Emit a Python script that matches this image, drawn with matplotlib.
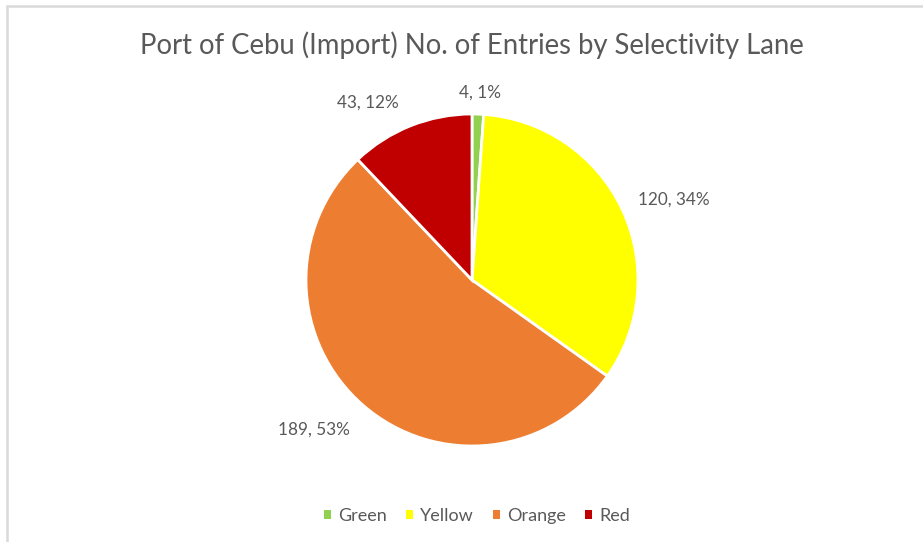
import matplotlib
matplotlib.use("Agg")
import matplotlib.pyplot as plt
from matplotlib.patches import Patch, Rectangle
import numpy as np

lanes = ["Green", "Yellow", "Orange", "Red"]
entries = [4, 120, 189, 43]
colors = ["#92D050", "#FFFF00", "#ED7D31", "#C00000"]
title = "Port of Cebu (Import) No. of Entries by Selectivity Lane"

# label placement: radial distance and angular nudge (degrees) per slice
label_dist = [1.13, 1.31, 1.31, 1.24]
label_nudge = [0.5, 3.5, 5.5, -8.5]

plt.rcParams["font.family"] = ["Lato", "DejaVu Sans"]
text_color = "#595959"

W, H = 923, 542
fig = plt.figure(figsize=(W / 100, H / 100), dpi=100)

# chart-area border (light grey, open to the right and bottom)
fig.add_artist(Rectangle((7.5 / W, -0.1), 1.2, (H - 5.5) / H + 0.1,
                         transform=fig.transFigure, fill=False,
                         edgecolor="#D9D9D9", linewidth=1.8))

cx, cy, r = 472, 280, 166
ax = fig.add_axes([(cx - r) / W, (H - cy - r) / H, 2 * r / W, 2 * r / H])

wedges, _ = ax.pie(entries, colors=colors, startangle=90, counterclock=False,
                   radius=1, wedgeprops=dict(edgecolor="white", linewidth=2))
ax.set_xlim(-1, 1)
ax.set_ylim(-1, 1)
ax.set_aspect("equal")
ax.axis("off")

total = sum(entries)
for w, v, d, n in zip(wedges, entries, label_dist, label_nudge):
    mid = np.deg2rad((w.theta1 + w.theta2) / 2 - n)
    pct = round(v / total * 100)
    ax.text(d * np.cos(mid), d * np.sin(mid), f"{v}, {pct}%",
            ha="center", va="center", fontsize=12.3, color=text_color)

fig.text(cx / W, 1 - 45 / H, title, ha="center", va="center",
         fontsize=19.8, color=text_color)

handles = [Patch(facecolor=c, edgecolor="none", label=l) for c, l in zip(colors, lanes)]
fig.legend(handles=handles, loc="center", bbox_to_anchor=(477 / W, 1 - 516 / H),
           ncol=4, frameon=False, fontsize=13, handlelength=0.38, handleheight=0.38,
           handletextpad=0.4, columnspacing=1.05, labelcolor=text_color)

fig.savefig("out.png", dpi=100, facecolor="white")
